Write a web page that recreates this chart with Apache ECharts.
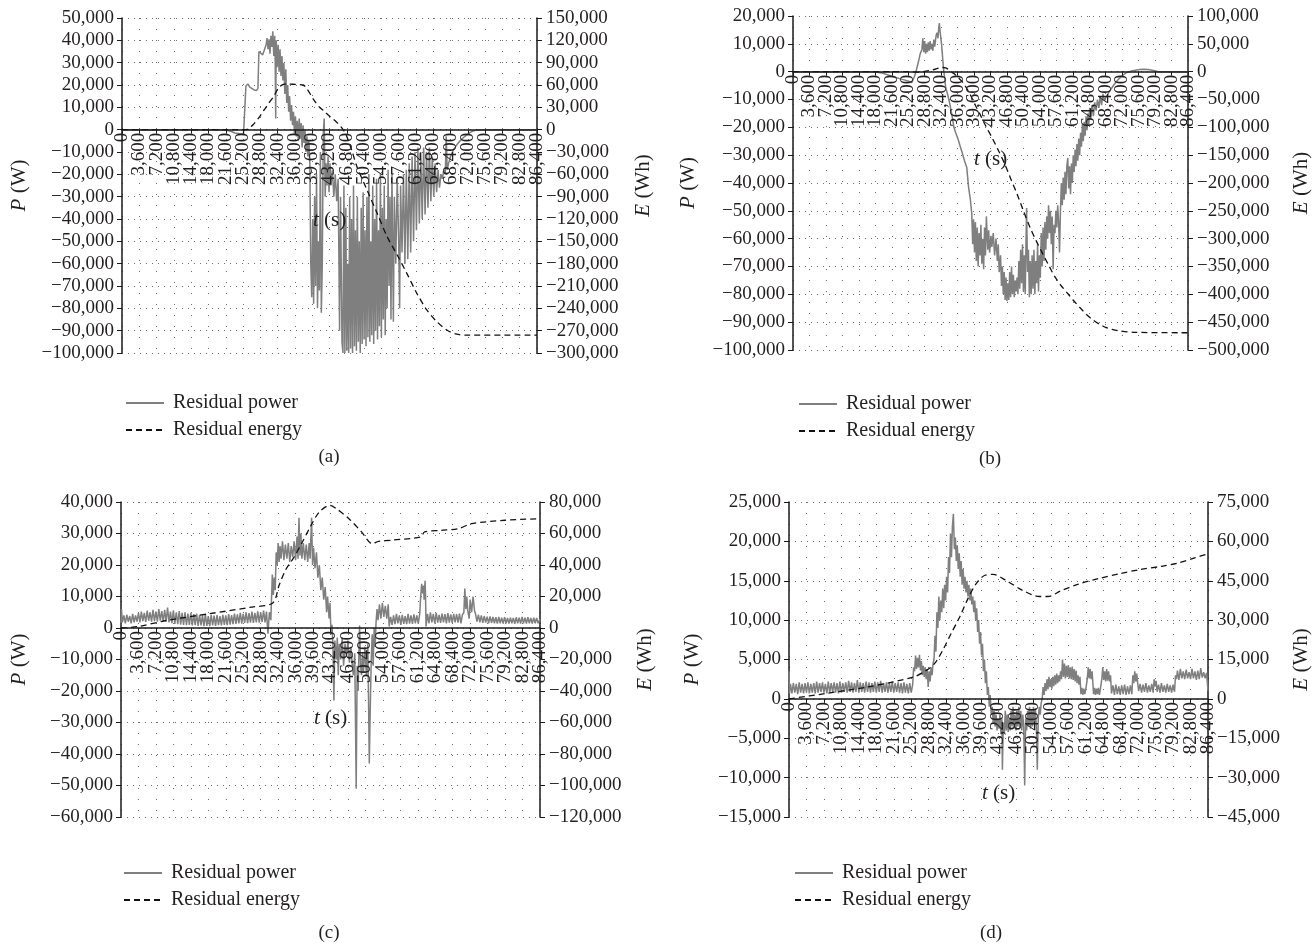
<!DOCTYPE html>
<html>
<head>
<meta charset="utf-8">
<title>Residual power and residual energy</title>
<script src="https://cdn.jsdelivr.net/npm/echarts@6/dist/echarts.min.js"></script>
<style>
  html, body { margin: 0; padding: 0; background: #ffffff; }
  #chart { width: 1316px; height: 947px; }
</style>
</head>
<body>
<div id="chart"></div>
<script>
// Time axis (s): one tick per hour over a full day
const timeTicks = { min: 0, max: 86400, step: 3600 };
const timeLabels = ['0','3,600','7,200','10,800','14,400','18,000','21,600','25,200','28,800','32,400','36,000','39,600',
  '43,200','46,800','50,400','54,000','57,600','61,200','64,800','68,400','72,000','75,600','79,200','82,800','86,400'];

// Axis ranges per panel: [min, max, interval]
const powerRangeA = [-100000, 50000, 10000];
const energyRangeA = [-300000, 150000, 30000];
const powerRangeB = [-100000, 20000, 10000];
const energyRangeB = [-500000, 100000, 50000];
const powerRangeC = [-60000, 40000, 10000];
const energyRangeC = [-120000, 80000, 20000];
const powerRangeD = [-15000, 25000, 5000];
const energyRangeD = [-45000, 75000, 15000];

const seriesNames = ['Residual power', 'Residual energy'];
const captions = ['(a)', '(b)', '(c)', '(d)'];

// ---- Panel (a): [t (s), P (W)] and [t (s), E (Wh)] ----
const powerA = [[0,0],[20000,0],[21600,-200],[22800,-800],[23500,-1500],[24500,-1800],[25300,-2000],[25600,-1500],
[25800,19500],[26200,20500],[26600,19000],[27000,18500],[27500,17800],[28000,17500],[28300,18500],
[28500,35000],[28900,34500],[29300,33500],[29700,33000],[30000,38000],[30200,41000],[30400,36000],[30600,40500],[30800,34000],[31000,42000],[31200,37000],[31400,44000],[31600,33000],[31800,42000],[31900,30000],[32000,5000],[32100,40000],[32300,28000],[32500,38000],[32700,26000],[32900,36000],[33100,24000],[33300,33000],[33500,22000],[33700,30000],[33900,16000],[34100,27000],[34300,12000],[34500,20000],[34700,8000],[34900,15000],[35100,4000],[35300,11000],[35500,2000],[35700,8000],[35900,-2000],[36100,6000],[36300,-3000],[36500,4000],[36700,-5000],[36900,5000],[37100,-4000],[37300,3000],[37500,-8000],[37700,2000],[37900,-6000],[38100,0],[38300,-10000],[38500,-3000],[38700,-12000],[38900,-5000],[39100,-15000],
[39300,-60000],[39500,-75000],[39700,-40000],[39900,-78000],[40100,-30000],[40300,-70000],[40500,-20000],[40700,-80000],[40900,-50000],[41100,-72000],[41300,-10000],[41500,-82000],[41700,-60000],[41900,-2000],[42100,5000],[42300,-30000],[42500,-15000],[42700,-25000],[42900,-12000],[43100,-28000],[43300,-15000],[43500,-25000],[43800,-18000],[44100,-30000],[44400,-20000],[44700,-32000],[45000,-22000],[45300,-90000],[45500,-30000],[45800,-95000],
[46000,-100000],[46200,-25000],[46400,-100000],[46600,-35000],[46800,-99000],[47000,-60000],[47200,-100000],[47400,-30000],[47600,-98000],[47800,-40000],[48000,-100000],[48200,-25000],[48400,-97000],[48600,-45000],[48800,-99000],[49000,-30000],[49200,-95000],[49400,-50000],[49600,-100000],[49800,-35000],[50000,-96000],[50200,-28000],[50400,-94000],[50600,-45000],[50800,-97000],[51000,-30000],[51200,-93000],[51400,-20000],[51600,-95000],[51800,-50000],[52000,-92000],[52200,-25000],[52400,-96000],[52600,-40000],[52800,-90000],[53000,-22000],[53200,-94000],[53400,-45000],[53600,-88000],[53800,-20000],[54000,-93000],[54200,-35000],[54400,-85000],[54600,-25000],[54800,-92000],[55000,-40000],[55200,-80000],[55400,-18000],[55600,-70000],[55800,-30000],[56000,-85000],[56200,-20000],[56500,-86000],[56700,-30000],[57000,-60000],[57300,-22000],[57600,-50000],[57800,-80000],[58000,-25000],[58300,-55000],[58600,-20000],[58900,-60000],[59200,-18000],[59500,-58000],[59800,-15000],[60100,-55000],[60400,-12000],[60700,-50000],[61000,-10000],[61300,-45000],[61600,-8000],[61900,-42000],[62200,-10000],[62500,-40000],[62800,-8000],[63100,-38000],[63400,-10000],[63700,-35000],[64000,-8000],[64300,-32000],[64600,-12000],[64900,-30000],[65200,-15000],[65500,-28000],[65800,-18000],[66100,-26000],[66400,-20000],[66700,-22000],[67000,-18000],[67300,-20000],[67500,-3000],[67700,-18000],[68000,-15000],[68400,-12000],[69000,-9000],[69700,-6800],[70400,-5000],[71100,-3500],[71800,-2300],[72500,-1200],[73100,-600],[73800,-200],[74500,0],[86400,0]];

const energyA = [[0,0],[25800,0],[27300,6700],[28700,18000],[30100,31400],[31500,44000],[32900,58300],[34300,61500],[35500,61000],[37700,60000],[38500,55000],[39900,40300],[41000,31000],[42100,24600],[43400,17000],[44700,10000],[45800,2000],[46600,-6000],[47800,-27000],[48900,-49400],[51000,-80800],[53100,-112000],[55200,-143700],[57300,-168400],[59300,-193000],[61400,-220000],[63500,-242500],[65600,-258200],[67700,-269400],[69700,-274800],[71800,-276000],[86400,-276000]];

// ---- Panel (b) ----
const powerB = [[0,0],[17700,0],[19500,-500],[21400,-1500],[23300,-2500],[25100,-3300],[26000,-3900],[26500,-2000],[26900,0],[27500,4000],[27800,6300],[28200,8000],[28400,12000],[28600,7000],[28800,11000],[29000,6500],[29200,10000],[29400,7000],[29600,10500],[29800,7500],[30000,11000],[30200,8000],[30400,10000],[30600,7500],[30800,11500],[31000,9000],[31300,13000],[31500,14000],[31700,12000],[31900,16000],[32000,17500],[32200,14000],[32500,9800],[32900,1500],[33400,-5700],[33800,-8000],[34300,-11600],[34700,-15000],[35200,-20000],[35600,-22000],[36100,-24200],[36600,-27000],[37100,-29600],[37500,-32000],[38000,-34300],[38400,-41500],[38800,-46000],[39100,-51000],[39300,-62000],[39500,-53000],[39700,-65000],[39900,-54000],[40100,-68000],[40300,-56000],[40500,-70000],[40700,-58000],[40900,-66000],[41100,-55000],[41300,-69000],[41500,-60000],[41700,-71000],[41900,-56000],[42100,-66000],[42300,-52000],[42600,-64000],[42800,-57000],[43000,-65000],[43300,-59000],[43500,-63000],[43800,-58000],[44100,-66000],[44400,-60000],[44700,-68000],[44900,-62000],[45100,-72000],[45400,-66000],[45600,-77000],[45800,-70000],[46000,-80000],[46200,-72000],[46400,-82000],[46600,-74000],[46800,-82500],[47000,-76000],[47200,-82000],[47400,-72000],[47600,-81000],[47800,-70000],[48000,-80000],[48200,-73000],[48400,-81000],[48600,-75000],[48800,-79000],[49000,-74000],[49200,-80000],[49400,-68000],[49600,-78000],[49800,-64000],[50000,-76000],[50200,-62000],[50400,-79000],[50600,-66000],[50800,-80000],[51000,-58000],[51100,-49000],[51300,-72000],[51500,-64000],[51700,-81000],[51900,-68000],[52100,-80000],[52300,-66000],[52500,-78000],[52700,-64000],[52900,-80000],[53100,-68000],[53300,-76000],[53500,-62000],[53700,-79000],[53900,-66000],[54100,-74000],[54300,-58000],[54500,-70000],[54700,-56000],[54900,-68000],[55100,-54000],[55300,-64000],[55500,-52000],[55700,-60000],[55900,-48000],[56100,-58000],[56300,-50000],[56500,-62000],[56700,-52000],[56900,-71000],[57100,-55000],[57300,-58000],[57500,-50000],[57700,-56000],[57900,-48000],[58100,-54000],[58300,-65000],[58500,-50000],[58700,-40000],[58900,-48000],[59100,-38000],[59300,-46000],[59500,-36000],[59700,-44000],[59900,-34000],[60100,-31000],[60300,-42000],[60500,-34000],[60700,-44000],[60900,-33000],[61100,-40000],[61300,-30000],[61500,-36000],[61700,-28000],[61900,-34000],[62100,-26000],[62300,-32000],[62500,-24000],[62700,-30000],[62900,-22000],[63100,-27000],[63300,-19000],[63500,-25000],[63700,-18000],[63900,-23000],[64100,-16000],[64300,-21000],[64500,-15000],[64700,-19000],[64900,-13000],[65100,-17000],[65400,-12000],[65700,-16000],[66000,-11000],[66300,-14000],[66600,-10000],[66900,-13000],[67200,-9000],[67500,-12000],[67800,-8000],[68100,-10500],[68400,-9300],[69300,-6900],[70200,-4700],[71200,-2700],[72100,-1300],[73000,-300],[74000,200],[74900,500],[75800,800],[76700,900],[77700,800],[78600,500],[79300,250],[79900,0],[86400,0]];

const energyB = [[0,0],[25100,0],[27000,-800],[28500,0],[30600,3300],[32500,7500],[33400,7000],[34300,1500],[35200,-3500],[36100,-10400],[37000,-18000],[38000,-30000],[39000,-45000],[40000,-62000],[41000,-78000],[42000,-95000],[43500,-118000],[44900,-141000],[46300,-165700],[47600,-192000],[49000,-219400],[50400,-250000],[51800,-279000],[53200,-304000],[54600,-326800],[56000,-349000],[57300,-368600],[58700,-385000],[60100,-398500],[61500,-412500],[62900,-425000],[64300,-437000],[65600,-446000],[67000,-453500],[68400,-459400],[69800,-463000],[71200,-465300],[74900,-468300],[86400,-469000]];

// ---- Panel (c) ----
const powerC = [[0,1500],[100,6000],[300,1800],[600,4000],[900,1500],[1200,4200],[1500,2000],[1800,3800],[2100,1500],[2400,4500],[2700,1800],[3000,4000],[3300,2000],[3600,4800],[3900,1800],[4200,5200],[4500,2200],[4800,4800],[5100,1900],[5400,5500],[5700,2300],[6000,5000],[6300,2000],[6600,5800],[6900,2200],[7200,5200],[7500,2000],[7800,6000],[8100,2300],[8400,5400],[8700,2100],[9000,5800],[9300,2000],[9600,6500],[9900,1800],[10200,5200],[10500,1500],[10800,5600],[11100,1300],[11400,5000],[11700,1200],[12000,5400],[12300,1100],[12600,4800],[12900,1000],[13200,5000],[13500,900],[13800,4600],[14100,1000],[14400,4800],[14700,800],[15000,4400],[15300,900],[15600,4600],[15900,700],[16200,4200],[16500,800],[16800,4000],[17100,600],[17400,4300],[17700,700],[18000,3800],[18300,600],[18600,4200],[18900,800],[19200,3900],[19500,700],[19800,4100],[20100,900],[20400,3800],[20700,800],[21000,4200],[21300,1000],[21600,4000],[21900,900],[22200,4400],[22500,1100],[22800,4100],[23100,1200],[23400,4600],[23700,1300],[24000,4300],[24300,1500],[24600,4800],[24900,1400],[25200,4500],[25500,1600],[25800,5000],[26100,1500],[26400,4700],[26700,1700],[27000,5200],[27300,1600],[27600,4800],[27900,1800],[28200,5300],[28500,1700],[28800,5000],[29100,1900],[29400,5500],[29700,1800],[30000,5200],[30300,-1800],[30600,5000],[30900,2500],[31200,17000],[31400,10500],[31600,16000],[31800,12000],[32000,24000],[32200,20000],[32400,27000],[32600,21000],[32800,26000],[33000,22000],[33300,27500],[33600,21500],[33900,26500],[34200,22000],[34500,27000],[34800,21000],[35100,26000],[35400,22500],[35700,27500],[36000,21500],[36300,29000],[36500,22000],[36700,35000],[36900,23000],[37100,30000],[37300,22000],[37600,27000],[37900,21500],[38200,26500],[38500,21000],[38800,27000],[39000,22000],[39300,35000],[39500,20000],[39700,25500],[40000,19000],[40300,24000],[40600,16000],[40900,20000],[41200,12000],[41500,16000],[41800,9000],[42100,13000],[42400,5000],[42600,10000],[42900,3000],[43100,8000],[43300,-2000],[43500,1000],[43700,-5000],[43900,-23000],[44100,-4000],[44400,-10000],[44600,-3000],[44800,-15000],[45000,-5000],[45300,-10000],[45600,-3000],[45900,-12000],[46200,-5000],[46500,-9000],[46800,-4000],[47100,-11000],[47400,-6000],[47700,-12000],[47900,-15000],[48200,-8000],[48500,-51000],[48700,-12000],[48900,-20000],[49100,-5000],[49200,800],[49400,-12000],[49600,-15000],[49800,-8000],[50000,-14000],[50300,-6000],[50600,-15000],[50900,-5000],[51200,-43000],[51400,-25000],[51600,-10000],[51800,-2000],[52000,-12000],[52200,0],[52400,-6000],[52600,2000],[52800,6000],[53000,2500],[53300,7500],[53600,3000],[53900,8000],[54200,3500],[54500,7000],[54800,3000],[55100,7500],[55300,500],[55600,3500],[55900,1000],[56200,4000],[56500,1200],[56800,4500],[57100,1500],[57400,4000],[57700,1000],[58000,4200],[58300,1300],[58600,3800],[58900,1200],[59200,4500],[59500,1400],[59800,4000],[60100,1300],[60400,4300],[60700,1500],[61000,4000],[61300,1400],[61600,4500],[61800,10000],[62000,14000],[62200,11000],[62400,13500],[62500,9000],[62700,15000],[62800,10000],[62900,500],[63200,4500],[63500,1500],[63800,5000],[64100,1800],[64400,4500],[64700,1500],[65000,4800],[65300,1700],[65600,4200],[65900,1600],[66200,4600],[66500,1800],[66800,4400],[67100,1500],[67400,4700],[67700,1700],[68000,4300],[68300,1600],[68600,4500],[68900,1800],[69200,4400],[69500,1700],[69800,4600],[70100,1500],[70400,4200],[70700,5000],[70900,12500],[71100,6000],[71300,10000],[71500,5500],[71800,3000],[72000,9000],[72300,5000],[72600,10000],[72900,5500],[73100,4500],[73400,2000],[73700,4200],[74000,1800],[74300,4000],[74600,1600],[74900,3800],[75200,1700],[75500,3600],[75800,1500],[76100,3700],[76400,1600],[76700,3500],[77000,1500],[77300,3400],[77600,1400],[77900,3500],[78200,1500],[78500,3300],[78800,1400],[79100,3400],[79400,1500],[79700,3200],[80000,1400],[80300,3300],[80600,1500],[80900,3200],[81200,1300],[81500,3400],[81800,1500],[82100,3300],[82400,1400],[82700,3500],[83000,1500],[83300,3300],[83600,1400],[83900,3400],[84200,1500],[84500,3200],[84800,1400],[85100,3300],[85400,1500],[85700,3200],[86000,1500],[86400,2800]];

const energyC = [[0,0],[3600,1000],[9600,4900],[18300,9100],[27000,13300],[31300,15900],[32600,27100],[33900,36600],[35700,45100],[37400,54600],[39200,65200],[40900,73700],[43100,77900],[44400,75800],[47000,69400],[49600,61000],[51800,53500],[53100,55000],[56000,55800],[61800,57800],[62600,61000],[66000,62000],[69600,63100],[72200,66200],[79200,68400],[86400,69400]];

// ---- Panel (d) ----
const powerD = [[0,3500],[100,700],[300,1900],[600,700],[900,2000],[1200,800],[1500,1900],[1800,600],[2100,2100],[2400,800],[2700,1900],[3000,700],[3300,2000],[3600,800],[3900,2100],[4200,700],[4500,1900],[4800,800],[5100,2000],[5400,700],[5700,2200],[6000,800],[6300,2000],[6600,900],[6900,2100],[7200,800],[7500,1900],[7800,700],[8100,2200],[8400,800],[8700,2000],[9000,900],[9300,2100],[9600,800],[9900,2000],[10200,700],[10500,2200],[10800,800],[11100,2000],[11400,900],[11700,2100],[12000,800],[12300,2300],[12600,900],[12900,2100],[13200,800],[13500,2000],[13800,900],[14100,2400],[14400,800],[14700,2100],[15000,900],[15300,2000],[15600,800],[15900,2200],[16200,900],[16500,2100],[16800,800],[17100,2000],[17400,900],[17700,2200],[18000,800],[18300,2100],[18600,900],[18900,2300],[19200,800],[19500,2000],[19800,900],[20100,2100],[20400,800],[20700,2000],[21000,900],[21300,2200],[21600,800],[21900,2000],[22200,900],[22500,2100],[22800,800],[23100,2000],[23400,700],[23700,2100],[24000,800],[24300,1900],[24600,700],[24900,2000],[25200,800],[25500,1800],
[25700,4000],[25900,3500],[26100,5500],[26300,3800],[26500,5200],[26700,4000],[26900,5600],[27100,3600],[27300,4800],[27500,3000],[27700,4200],[27900,2800],[28100,4000],[28300,2500],[28500,3800],[28700,1500],[28900,3500],[29100,2200],[29300,4000],[29500,3000],[29700,4500],[29900,5000],[30100,8000],[30300,6000],[30500,11000],[30700,9000],[30900,13000],[31100,10000],[31300,12500],[31500,11000],[31700,14000],[31900,11500],[32100,14500],[32300,12500],[32500,15500],[32700,13500],[32900,18000],[33100,16000],[33300,21000],[33500,18000],[33700,22000],[33900,23500],[34100,19000],[34300,20500],[34500,17500],[34700,19500],[34900,16500],[35100,18500],[35300,15500],[35500,17500],[35700,14500],[35900,16500],[36100,14000],[36300,15500],[36500,13500],[36700,15000],[36900,13000],[37100,14500],[37300,12500],[37500,14000],[37700,12000],[37900,13000],[38100,11000],[38300,12500],[38500,10000],[38700,11500],[38900,8500],[39100,10000],[39300,7000],[39500,8500],[39700,5500],[39900,7000],[40100,3500],[40300,5000],[40500,2000],[40700,3500],[40900,500],[41100,1500],[41300,-1000],[41500,500],[41700,-2000],[41900,-1000],[42100,-3000],[42300,-1500],[42500,-3500],[42700,-2000],[42900,-4000],[43100,-2500],[43300,-3800],[43500,-2000],[43700,-4500],[43900,-2500],[44000,-9000],[44200,-3000],[44400,-4500],[44600,-1500],[44800,-4000],[45000,-2000],[45200,-4200],[45400,-2500],[45600,-4000],[45800,-1500],[46000,-3500],[46200,-1000],[46400,-3800],[46600,-2000],[46800,-4000],[47000,-1500],[47200,-3500],[47400,-1000],[47600,-3700],[47800,-1500],[48000,-4000],[48200,-2000],[48400,-3500],[48600,-11000],[48800,-2500],[49000,-4000],[49200,-1500],[49400,-3500],[49600,-1000],[49800,-3800],[50000,-1500],[50200,-3500],[50400,-1000],[50600,-3000],[50800,-1200],[51000,-3500],[51200,-9000],[51400,-2500],[51600,-1000],[51800,-2000],[52000,-500],[52200,0],[52400,1500],[52600,500],[52800,2000],[53000,1000],[53200,2500],[53400,1200],[53600,2800],[53800,1500],[54000,2500],[54200,1300],[54400,2800],[54600,1600],[54800,3000],[55000,1800],[55200,3200],[55400,2000],[55600,3000],[55800,2200],[56000,3500],[56200,2500],[56400,5000],[56600,2800],[56800,4500],[57000,2600],[57200,4200],[57400,2800],[57600,4300],[57800,2600],[58000,4000],[58200,2500],[58400,4100],[58600,2400],[58800,3800],[59000,2200],[59200,3600],[59400,2000],[59600,3000],[59800,1800],[60000,2800],[60200,600],[60400,1400],[60600,500],[60800,1300],[61000,600],[61200,1200],[61500,2500],[61700,4000],[61900,2600],[62100,3800],[62300,2500],[62500,3500],[62800,600],[63000,1400],[63200,500],[63400,1300],[63600,600],[63800,1400],[64000,500],[64200,1200],[64500,2500],[64700,4000],[64900,2400],[65100,3500],[65300,2200],[65500,3800],[65700,2300],[65900,3500],[66100,2200],[66300,3000],[66500,700],[66800,1700],[67100,500],[67400,1800],[67700,600],[68000,1600],[68300,500],[68600,1700],[68900,600],[69200,1800],[69500,500],[69800,1600],[70100,600],[70400,1700],[70700,600],[70900,3000],[71100,2000],[71300,3500],[71500,2200],[71700,3200],[71900,2000],[72100,1000],[72400,1900],[72700,800],[73000,1800],[73300,900],[73600,2000],[73900,800],[74200,1700],[74500,900],[74800,1900],[75100,800],[75300,2500],[75500,1600],[75700,2300],[75900,900],[76200,1800],[76500,800],[76800,2000],[77100,900],[77400,1700],[77700,800],[78000,1900],[78300,900],[78600,1700],[78900,800],[79200,1800],[79500,900],[79700,3000],[79900,2500],[80100,3600],[80400,2400],[80700,3800],[81000,2600],[81300,3500],[81600,2500],[81900,3700],[82200,2600],[82500,3400],[82800,2500],[83100,3800],[83400,2600],[83700,3500],[84000,2400],[84300,3600],[84600,2500],[84900,3900],[85200,2700],[85500,3400],[85800,2600],[86100,3300],[86400,1000]];

const energyD = [[0,0],[7400,2000],[16100,4500],[25600,8300],[28000,10500],[30000,13400],[31700,18500],[33400,24800],[35200,31200],[36900,38200],[38600,43900],[40400,47100],[42100,47400],[44700,45200],[48200,41300],[51700,39000],[53400,39000],[56000,41100],[59500,43600],[63800,45800],[68200,47700],[72500,49300],[76800,50500],[80300,51800],[83800,53800],[86400,55300]];

// ---- Styling ----
const FONT = '"Liberation Serif", "Times New Roman", serif';
const INK = '#231f20';
const AXIS_INK = '#1a1a1a';
const POWER_GRAY = '#7f7f7f';
const DOT_GRAY = '#6f6f6f';

function fmt(v) {
  const s = Math.abs(v).toLocaleString('en-US');
  return v < 0 ? '\u2212' + s : s;
}

const nameStyle = {
  fontFamily: FONT, fontSize: 21, color: INK,
  rich: { i: { fontFamily: FONT, fontSize: 21, fontStyle: 'italic', color: INK } }
};

// Layout for each panel (plot box + label offsets)
const panels = [
  { grid: { left: 122, top: 18, width: 415, height: 335 }, p: powerRangeA, e: energyRangeA, power: powerA, energy: energyA,
    gaps: { p: 92, e: 96, t: 80 }, legend: { left: 120, top: 388 }, caption: [329, 457] },
  { grid: { left: 793, top: 16, width: 395, height: 334 }, p: powerRangeB, e: energyRangeB, power: powerB, energy: energyB,
    gaps: { p: 94, e: 103, t: 77 }, legend: { left: 793, top: 389 }, caption: [990, 459] },
  { grid: { left: 121, top: 502, width: 419, height: 315 }, p: powerRangeC, e: energyRangeC, power: powerC, energy: energyC,
    gaps: { p: 91, e: 95, t: 80 }, legend: { left: 118, top: 858 }, caption: [329, 933] },
  { grid: { left: 789, top: 502, width: 419, height: 315 }, p: powerRangeD, e: energyRangeD, power: powerD, energy: energyD,
    gaps: { p: 86, e: 83, t: 84 }, legend: { left: 789, top: 858 }, caption: [991, 933] }
];

const grid = [], xAxis = [], yAxis = [], series = [], legend = [], graphic = [];

panels.forEach((pn, i) => {
  grid.push(Object.assign({ containLabel: false, outerBoundsMode: 'none' }, pn.grid));

  // the time axis sits on P = 0: shift it up from the bottom edge by the share of the range below zero
  const zeroShift = pn.grid.height * (0 - pn.p[0]) / (pn.p[1] - pn.p[0]);

  // value time scale for the curves, with hourly dotted verticals kept underneath them
  xAxis.push({
    type: 'value', gridIndex: i, position: 'top',
    min: timeTicks.min, max: timeTicks.max, interval: timeTicks.step,
    axisLine: { show: false }, axisTick: { show: false }, axisLabel: { show: false },
    splitLine: { show: true, lineStyle: { type: [1, 10], color: DOT_GRAY, width: 1 } },
    z: 0
  });

  // hourly labelled axis on the zero line, drawn above the curves (one slot per tick, edge to edge)
  xAxis.push({
    type: 'category', gridIndex: i, position: 'bottom', offset: -zeroShift, z: 4,
    data: timeLabels, boundaryGap: false,
    axisLine: { show: true, onZero: false, lineStyle: { color: AXIS_INK, width: 1.5 } },
    axisTick: { show: true, interval: 0, length: 4, lineStyle: { color: AXIS_INK, width: 1 } },
    axisLabel: { interval: 0, rotate: 90, margin: 3, fontFamily: FONT, fontSize: 19, color: INK, hideOverlap: false },
    splitLine: { show: false },
    name: '{i|t} (s)', nameLocation: 'middle', nameGap: pn.gaps.t, nameMoveOverlap: false,
    nameTextStyle: nameStyle
  });

  yAxis.push({
    type: 'value', gridIndex: i, position: 'left',
    min: pn.p[0], max: pn.p[1], interval: pn.p[2],
    axisLine: { show: true, onZero: false, lineStyle: { color: AXIS_INK, width: 1.5 } },
    axisTick: { show: true, length: 5, lineStyle: { color: AXIS_INK, width: 1 } },
    axisLabel: { margin: 8, fontFamily: FONT, fontSize: 19, color: INK, formatter: fmt,
                 showMinLabel: true, showMaxLabel: true },
    splitLine: { show: true, lineStyle: { type: [1, 5], color: DOT_GRAY, width: 1 } },
    name: '{i|P} (W)', nameLocation: 'middle', nameRotate: 90, nameGap: pn.gaps.p, nameMoveOverlap: false,
    nameTextStyle: nameStyle
  });

  yAxis.push({
    type: 'value', gridIndex: i, position: 'right',
    min: pn.e[0], max: pn.e[1], interval: pn.e[2],
    axisLine: { show: true, onZero: false, lineStyle: { color: AXIS_INK, width: 1.5 } },
    axisTick: { show: true, length: 5, lineStyle: { color: AXIS_INK, width: 1 } },
    axisLabel: { margin: 9, fontFamily: FONT, fontSize: 19, color: INK, formatter: fmt,
                 showMinLabel: true, showMaxLabel: true },
    splitLine: { show: false },
    name: '{i|E} (Wh)', nameLocation: 'middle', nameRotate: 90, nameGap: pn.gaps.e, nameMoveOverlap: false,
    nameTextStyle: nameStyle
  });

  series.push({
    type: 'line', name: seriesNames[0], xAxisIndex: 2 * i, yAxisIndex: 2 * i,
    data: pn.power, symbol: 'none', showSymbol: false,
    lineStyle: { color: POWER_GRAY, width: 1.5 }, itemStyle: { color: POWER_GRAY },
    z: 2, animation: false
  });
  series.push({
    type: 'line', name: seriesNames[1], xAxisIndex: 2 * i, yAxisIndex: 2 * i + 1,
    data: pn.energy, symbol: 'none', showSymbol: false, smooth: 0.3,
    lineStyle: { color: '#111111', width: 1.3, type: [6, 4] }, itemStyle: { color: '#111111' },
    z: 3, animation: false
  });

  legend.push({
    orient: 'vertical', left: pn.legend.left, top: pn.legend.top,
    itemWidth: 38, itemHeight: 14, itemGap: 7, selectedMode: false,
    itemStyle: { opacity: 0 },
    textStyle: { fontFamily: FONT, fontSize: 20, color: INK, lineHeight: 20, padding: [0, 0, 0, 4] },
    data: seriesNames.slice()
  });

  graphic.push({
    type: 'text', x: pn.caption[0], y: pn.caption[1],
    style: { text: captions[i], font: '19px ' + FONT, fill: INK, align: 'center', verticalAlign: 'middle' }
  });
});

const chart = echarts.init(document.getElementById('chart'), null, { renderer: 'canvas' });
chart.setOption({
  backgroundColor: '#ffffff',
  animation: false,
  grid, xAxis, yAxis, series, legend, graphic
});
</script>
</body>
</html>
